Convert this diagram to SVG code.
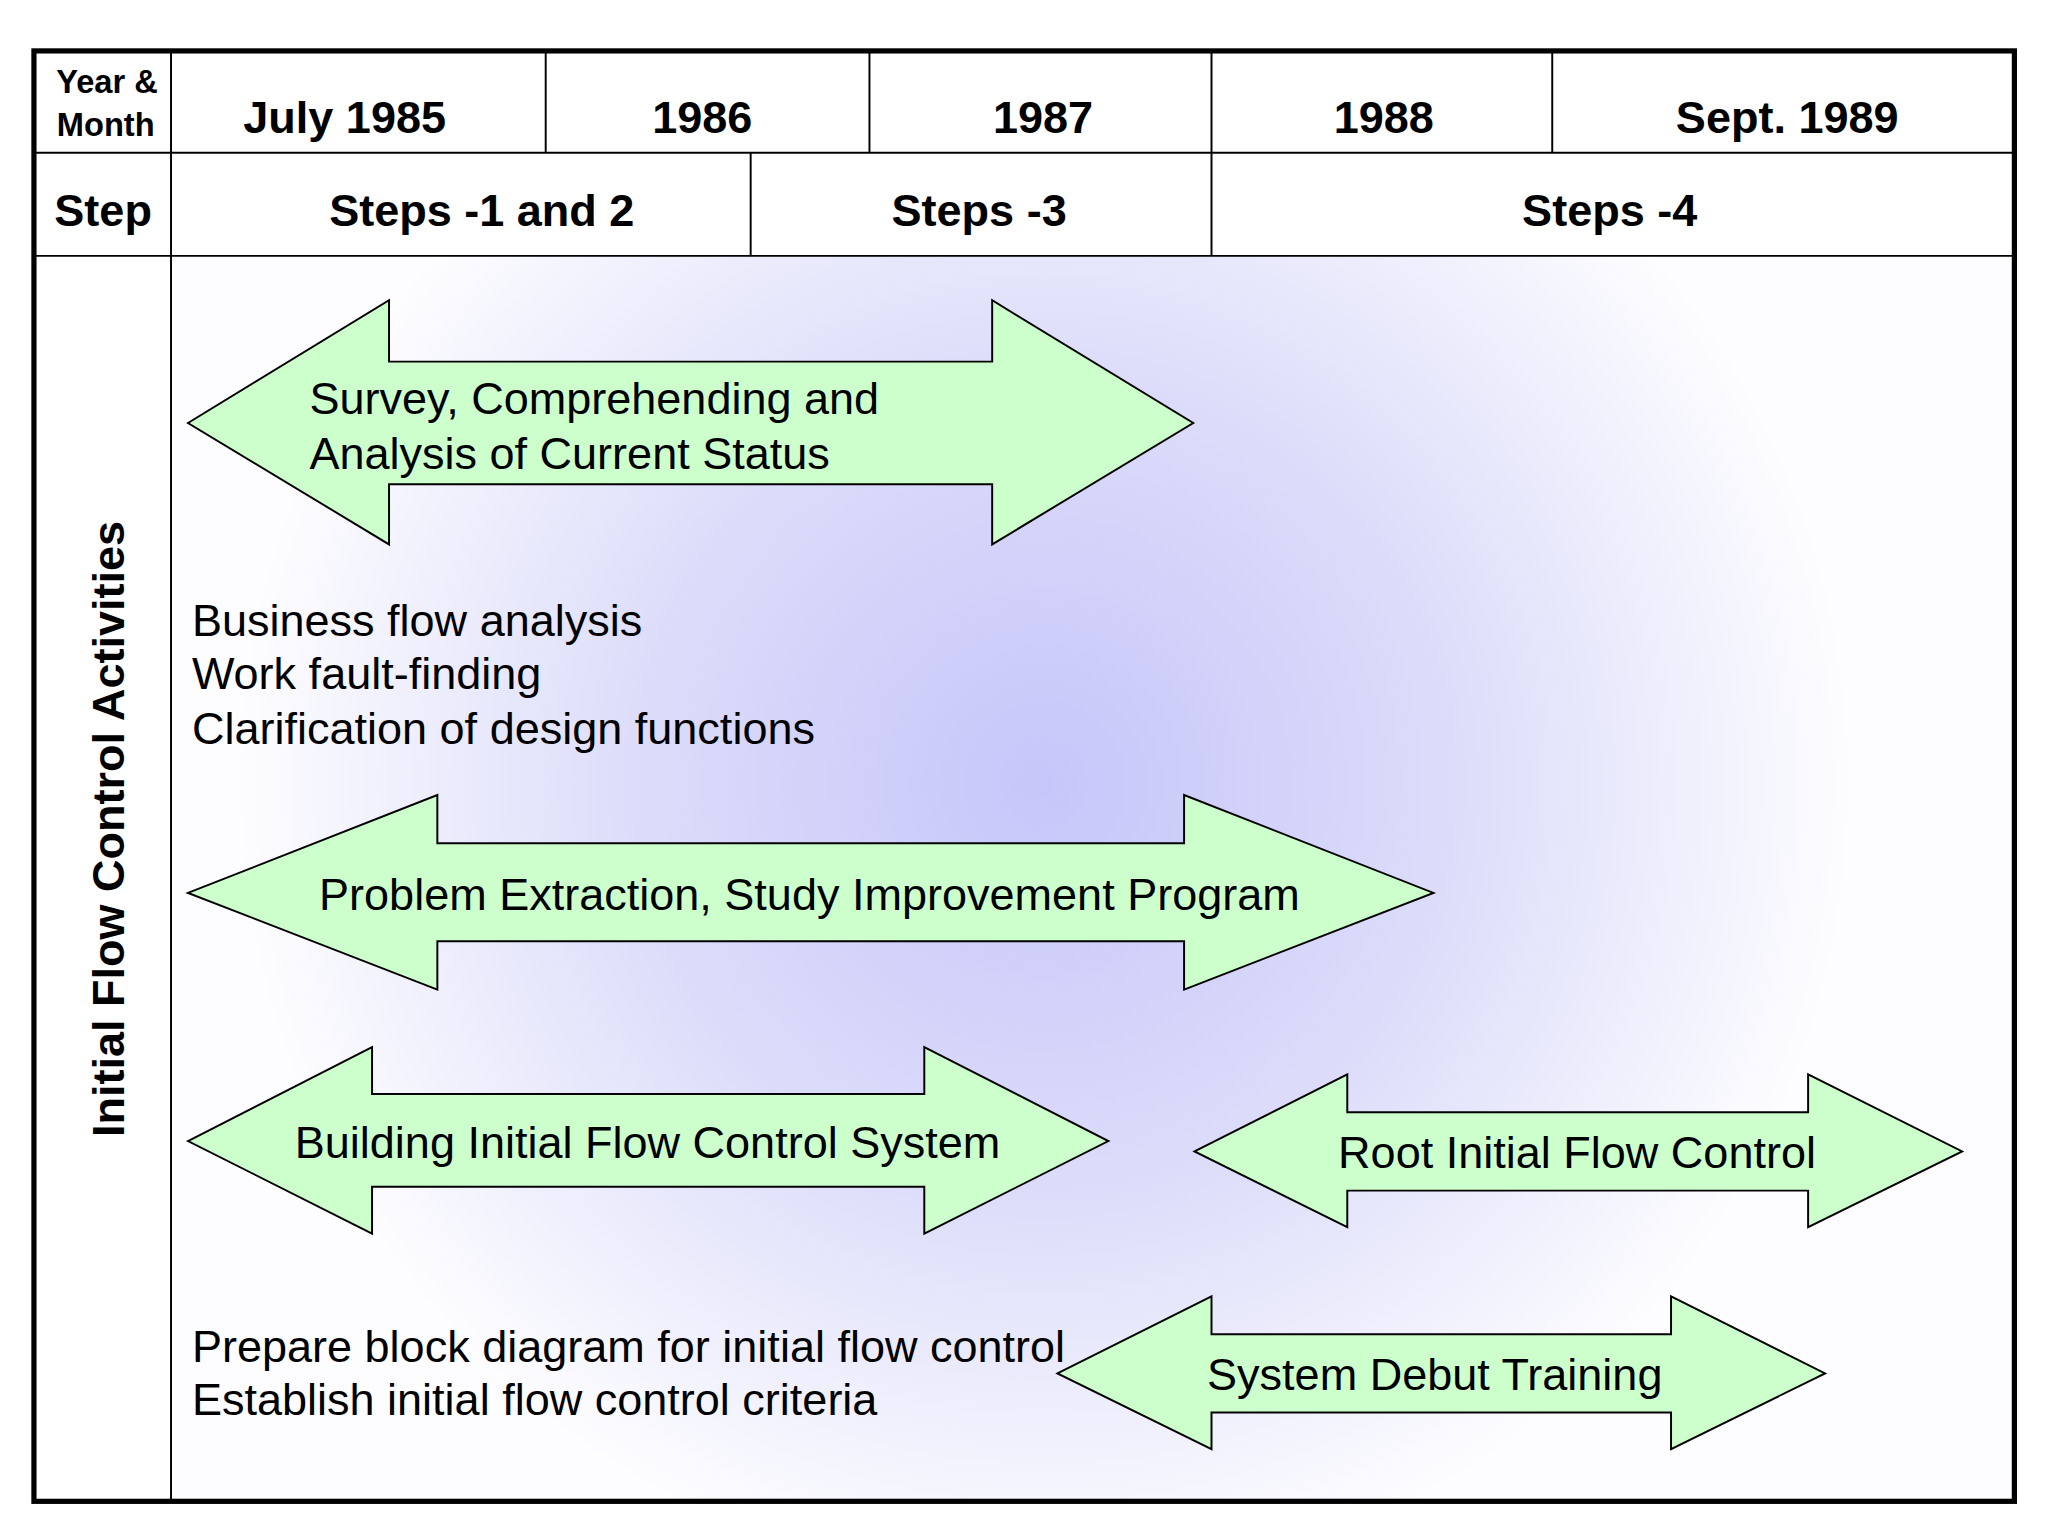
<svg xmlns="http://www.w3.org/2000/svg" width="2048" height="1536" viewBox="0 0 2048 1536">
<defs>
<radialGradient id="bg" cx="800" cy="600" r="620" gradientUnits="userSpaceOnUse">
<stop offset="0" stop-color="#c6c6fa"/><stop offset="0.5" stop-color="#dcdcfa"/><stop offset="1" stop-color="#fdfdff"/>
</radialGradient>
<style>
.a{fill:#ccffcc;stroke:#000;stroke-width:1.5}
.t{font-family:"Liberation Sans",Arial,sans-serif;font-size:34.5px;fill:#000}
.h{font-family:"Liberation Sans",Arial,sans-serif;font-size:34.5px;font-weight:bold;fill:#000;text-anchor:middle}
.s{font-family:"Liberation Sans",Arial,sans-serif;font-size:25px;font-weight:bold;fill:#000;text-anchor:middle}
.l{stroke:#000;stroke-width:1.5}
.m{text-anchor:middle;dominant-baseline:central}
</style>
</defs>
<rect width="2048" height="1536" fill="#fff"/>
<g transform="scale(1.3055)">
<rect x="131" y="196" width="1410" height="952" fill="#fdfdff"/>
<rect x="131" y="196" width="1410" height="952" fill="url(#bg)"/>
<g id="table">
<rect x="26" y="39" width="1517" height="1111" fill="none" stroke="#000" stroke-width="4"/>
<line class="l" x1="26" y1="117" x2="1543" y2="117"/>
<line class="l" x1="26" y1="196" x2="1543" y2="196"/>
<line class="l" x1="131" y1="39" x2="131" y2="1150"/>
<line class="l" x1="418" y1="39" x2="418" y2="117"/>
<line class="l" x1="666" y1="39" x2="666" y2="117"/>
<line class="l" x1="928" y1="39" x2="928" y2="196"/>
<line class="l" x1="1189" y1="39" x2="1189" y2="117"/>
<line class="l" x1="575" y1="117" x2="575" y2="196"/>
<text class="s" x="82" y="71">Year &amp;</text>
<text class="s" x="81" y="104">Month</text>
<text class="h" x="264" y="102">July 1985</text>
<text class="h" x="538" y="102">1986</text>
<text class="h" x="799" y="102">1987</text>
<text class="h" x="1060" y="102">1988</text>
<text class="h" x="1369" y="102">Sept. 1989</text>
<text class="h" x="79" y="173">Step</text>
<text class="h" x="369" y="173">Steps -1 and 2</text>
<text class="h" x="750" y="173">Steps -3</text>
<text class="h" x="1233" y="173">Steps -4</text>
<text class="h" transform="translate(95,635) rotate(-90)">Initial Flow Control Activities</text>
</g>
<g id="a1"><polygon class="a" points="144,324 298,230 298,277 760,277 760,230 914,324 760,417 760,371 298,371 298,417"/>
<text class="t" x="237" y="317">Survey, Comprehending and</text><text class="t" x="237" y="359">Analysis of Current Status</text></g>
<g id="a2"><polygon class="a" points="144,684 335,609 335,646 907,646 907,609 1098,684 907,758 907,721 335,721 335,758"/>
<text class="t m" x="620" y="685">Problem Extraction, Study Improvement Program</text></g>
<g id="a3"><polygon class="a" points="144,874 285,802 285,838 708,838 708,802 849,874 708,945 708,909 285,909 285,945"/>
<text class="t m" x="496" y="875">Building Initial Flow Control System</text></g>
<g id="a4"><polygon class="a" points="915,882 1032,823 1032,852 1385,852 1385,823 1503,882 1385,940 1385,912 1032,912 1032,940"/>
<text class="t m" x="1208" y="883">Root Initial Flow Control</text></g>
<g id="a5"><polygon class="a" points="810,1052 928,993 928,1022 1280,1022 1280,993 1398,1052 1280,1110 1280,1082 928,1082 928,1110"/>
<text class="t m" x="1099" y="1053">System Debut Training</text></g>
<g id="notes">
<text class="t" x="147" y="487">Business flow analysis</text>
<text class="t" x="147" y="528">Work fault-finding</text>
<text class="t" x="147" y="570">Clarification of design functions</text>
<text class="t" x="147" y="1043">Prepare block diagram for initial flow control</text>
<text class="t" x="147" y="1084">Establish initial flow control criteria</text>
</g>
</g>
</svg>
